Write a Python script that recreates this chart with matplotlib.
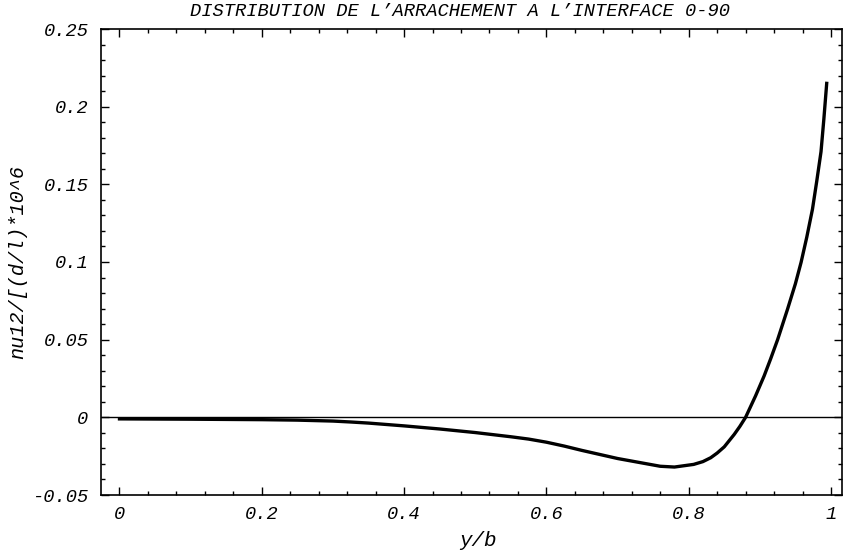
import numpy as np
import matplotlib
matplotlib.use("Agg")
import matplotlib.pyplot as plt
from matplotlib.ticker import FixedLocator, FixedFormatter, MultipleLocator

# curve
y_over_b = [0.0, 0.1, 0.2, 0.25, 0.3, 0.325, 0.35, 0.4, 0.45, 0.5, 0.55,
            0.575, 0.6, 0.625, 0.65, 0.7, 0.73, 0.76, 0.78, 0.807, 0.82,
            0.831, 0.84, 0.85, 0.864, 0.872, 0.88, 0.894, 0.906, 0.915,
            0.925, 0.939, 0.95, 0.958, 0.966, 0.974, 0.98, 0.986, 0.99, 0.994]
nu12 = [-0.001, -0.0012, -0.0015, -0.0018, -0.0024, -0.003, -0.0037,
        -0.0055, -0.0075, -0.0098, -0.0125, -0.014, -0.016, -0.0185,
        -0.0213, -0.0265, -0.029, -0.0315, -0.032, -0.0303, -0.0285, -0.026,
        -0.023, -0.019, -0.011, -0.0058, 0.0, 0.0138, 0.0266, 0.0374, 0.050,
        0.0697, 0.086, 0.0998, 0.116, 0.134, 0.152, 0.171, 0.192, 0.215]

xticks = [0, 0.2, 0.4, 0.6, 0.8, 1.0]
xtick_labels = ["0", "0.2", "0.4", "0.6", "0.8", "1"]
yticks = [-0.05, 0, 0.05, 0.1, 0.15, 0.2, 0.25]
ytick_labels = ["-0.05", "0", "0.05", "0.1", "0.15", "0.2", "0.25"]

font = dict(family="Liberation Mono", style="italic")

fig = plt.figure(figsize=(8.46, 5.6), dpi=100)
ax = fig.add_axes([101 / 846, 65 / 560, 741 / 846, 466 / 560])

ax.axhline(0, color="black", lw=1.0)
ax.plot(y_over_b, nu12, color="black", lw=2.4, solid_joinstyle="round")

ax.set_xlim(-0.026, 1.0155)
ax.set_ylim(-0.05, 0.25)

ax.xaxis.set_major_locator(FixedLocator(xticks))
ax.xaxis.set_major_formatter(FixedFormatter(xtick_labels))
ax.xaxis.set_minor_locator(MultipleLocator(0.04))
ax.yaxis.set_major_locator(FixedLocator(yticks))
ax.yaxis.set_major_formatter(FixedFormatter(ytick_labels))
ax.yaxis.set_minor_locator(MultipleLocator(0.01))

ax.tick_params(which="both", direction="in", top=True, right=True, width=1.0)
ax.tick_params(which="major", length=6)
ax.tick_params(which="minor", length=3)
ax.tick_params(axis="x", pad=8)
ax.tick_params(axis="y", pad=9)
for lab in ax.get_xticklabels() + ax.get_yticklabels():
    lab.set_fontfamily("Liberation Mono")
    lab.set_fontstyle("italic")
    lab.set_fontsize(13.5)

for s in ax.spines.values():
    s.set_linewidth(1.2)

fig.text(460 / 846, 1 - 11 / 560, "DISTRIBUTION DE L\u2019ARRACHEMENT A L\u2019INTERFACE 0-90",
         ha="center", va="center", fontsize=13.5, **font)
fig.text(478 / 846, 1 - 541 / 560, "y/b", ha="center", va="center", fontsize=15, **font)
fig.text(18 / 846, 1 - 262 / 560, "nu12/[(d/l)*10^6", ha="center", va="center",
         rotation=90, fontsize=14.5, **font)

plt.savefig("out.png", dpi=100)
